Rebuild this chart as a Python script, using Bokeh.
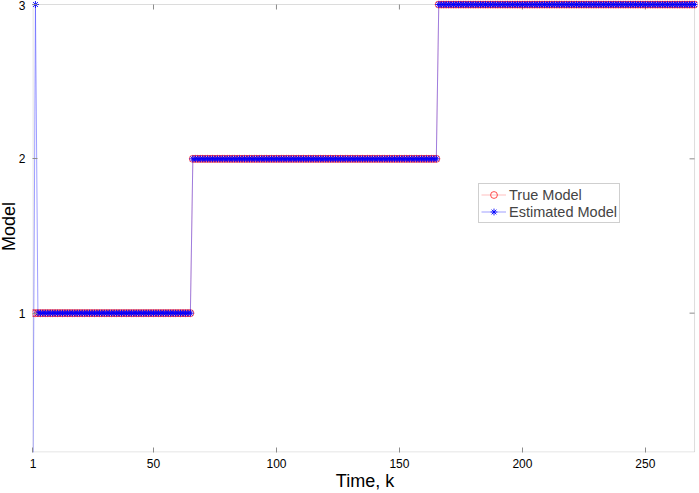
import numpy as np
from bokeh.plotting import figure
from bokeh.models import Range1d, FixedTicker, Legend, LegendItem, BoxAnnotation, Title
from bokeh.embed import file_html
from bokeh.resources import INLINE

# data
k_start, k_end = 1, 270
true_levels = [1, 2, 3]
switch_times = [1, 66, 166]          # first k of each level
est_override_k = [1, 2]               # k where estimate differs
est_override_val = [0, 3]
x_ticks = [1, 50, 100, 150, 200, 250]
y_ticks = [1, 2, 3]
y_min, y_max = 0.1, 3

k = np.arange(k_start, k_end + 1)
bounds = switch_times + [k_end + 1]
true_model = np.concatenate([np.full(bounds[i + 1] - bounds[i], lv) for i, lv in enumerate(true_levels)]).astype(float)
est_model = true_model.copy()
for kk, vv in zip(est_override_k, est_override_val):
    est_model[kk - k_start] = vv

FONT = "Liberation Sans"
AX = "#8c8c8c"

p = figure(width=699, height=493, output_backend="svg", toolbar_location=None,
           x_range=Range1d(k_start - 0.2, k_end + 1.2), y_range=Range1d(y_min - 0.003, y_max + 0.026),
           min_border_left=0, min_border_right=2, min_border_top=0, min_border_bottom=0)
p.styles = {"position": "absolute", "left": "0px", "top": "0px"}
p.grid.visible = False
p.outline_line_color = None
p.background_fill_color = "white"
p.border_fill_color = "white"

# axes box (MATLAB style)
box = BoxAnnotation(left=k_start, right=k_end, bottom=y_min, top=y_max,
                    fill_color=None, line_color=AX, line_width=1, level="underlay")
p.add_layout(box)
p.ray(x=x_ticks[1:], y=[y_max] * (len(x_ticks) - 1), length=5, angle=-np.pi / 2,
      length_units="screen", line_color=AX, line_width=1, level="underlay")
p.ray(x=[k_end] * len(y_ticks), y=y_ticks, length=5, angle=np.pi,
      length_units="screen", line_color=AX, line_width=1, level="underlay")

r1 = p.line(k, true_model, line_color="#ff0000", line_width=0.5, line_alpha=0.5)
c1 = p.scatter(k, true_model, marker="circle", size=7, fill_color=None, line_color="#ff2020", line_width=0.8)
r2 = p.line(k, est_model, line_color="#3333ff", line_width=0.8, line_alpha=0.6)
c2 = p.scatter(k, est_model, marker="asterisk", size=7, line_color="#0000ff", line_width=0.9)

for ax in (p.xaxis[0], p.yaxis[0]):
    ax.axis_line_color = None
    ax.major_tick_line_color = AX
    ax.major_tick_in = 5
    ax.major_tick_out = 0
    ax.minor_tick_line_color = None
    ax.major_label_text_font = FONT
    ax.major_label_text_font_size = "12px"
    ax.major_label_text_color = "black"
    ax.axis_label_text_font = FONT
    ax.axis_label_text_font_size = "18px"
    ax.axis_label_text_font_style = "normal"
    ax.axis_label_text_color = "black"

p.xaxis[0].ticker = FixedTicker(ticks=x_ticks)
p.yaxis[0].ticker = FixedTicker(ticks=y_ticks)
p.xaxis[0].axis_label = "Time, k"
p.xaxis[0].major_label_standoff = 6
p.xaxis[0].axis_label_standoff = 0
p.yaxis[0].major_label_standoff = 7

ytitle = Title(text="Model", align="center", text_font=FONT, text_font_size="18px",
               text_font_style="normal", text_color="black", standoff=-7, offset=0)
p.add_layout(ytitle, "left")

legend = Legend(items=[LegendItem(label="True Model", renderers=[r1, c1]),
                       LegendItem(label="Estimated Model", renderers=[r2, c2])],
                location=(446, 229), label_text_font=FONT, label_text_font_size="14.5px",
                border_line_color="#a0a0a0", background_fill_color="white",
                glyph_width=25, glyph_height=17, label_height=17, spacing=0,
                padding=2, margin=0, label_standoff=3)
p.add_layout(legend, "center")

open("out.html", "w").write(file_html(p, INLINE))
